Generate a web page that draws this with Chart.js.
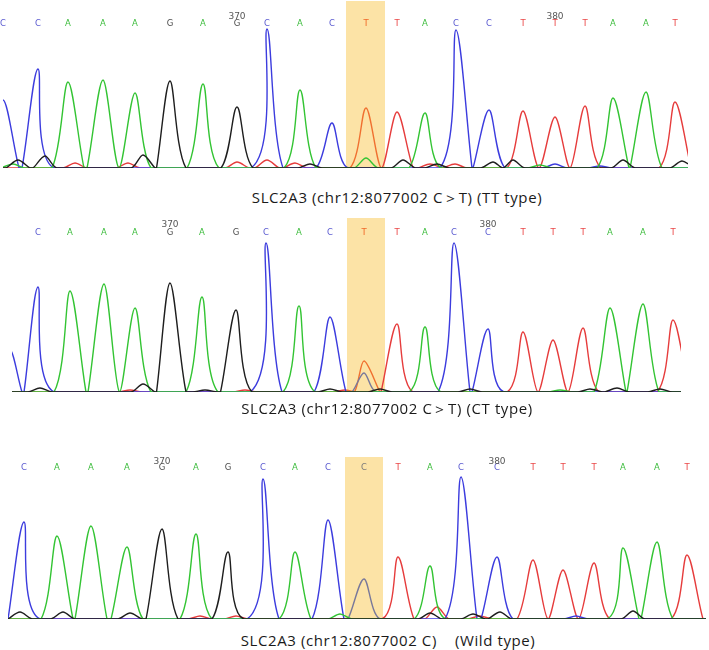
<!DOCTYPE html>
<html>
<head>
<meta charset="utf-8">
<script src="https://cdn.jsdelivr.net/npm/chart.js@4.4.1/dist/chart.umd.min.js"></script>
<style>
html,body{margin:0;padding:0;background:#fff;}
#wrap{position:relative;width:709px;height:650px;overflow:hidden;background:#fff;}
#wrap canvas{position:absolute;left:0;}
.cap{position:absolute;font-family:"Open Sans",sans-serif;font-size:15px;letter-spacing:0.6px;line-height:18px;color:#1a1a1a;white-space:pre;transform:translateX(-50%);}
</style>
</head>
<body>
<div id="wrap">
  <canvas id="c1" width="709" height="175" style="top:0px"></canvas>
  <canvas id="c2" width="709" height="190" style="top:210px"></canvas>
  <canvas id="c3" width="709" height="182" style="top:445px"></canvas>
  <div class="cap" id="cap1" style="left:397px;top:188px"></div>
  <div class="cap" id="cap2" style="left:387px;top:399px"></div>
  <div class="cap" id="cap3" style="left:388px;top:631px"></div>
</div>
<script>
// ---------- DATA (scan position / signal intensity) ----------
// Panel 1 : TT type
const p1Bases  = ['C','C','A','A','A','G','A','G','C','A','C','T','T','A','C','C','T','T','T','A','A','T'];
const p1Scan   = [3,38,68,103,135,170,203,237,267,300,332,366,397,425,456,489,523,555,585,613,646,675];
const p1Signal = [680,990,860,880,750,870,840,610,1390,780,450,600,560,550,1380,580,570,510,620,700,760,660];
const p1NoiseBase   = ['G','G','G','G','G','G','G','G','G','G','T','T','T','T','T','T','T','A','A','A','C','C'];
const p1NoiseScan   = [18,45,143,310,403,437,493,513,623,682,75,128,237,267,295,430,455,13,366,540,555,600];
const p1NoiseSignal = [80,120,130,40,80,40,60,80,80,70,50,50,60,80,50,40,40,40,100,30,40,20];
const p1TickLabels  = ['370','380'];
const p1TickIndex   = [7,17];
const p1Highlight   = [346,385];
const p1Caption     = 'SLC2A3 (chr12:8077002 C＞T) (TT type)';

// Panel 2 : CT type
const p2Bases  = ['C','A','A','A','G','A','G','C','A','C','T','T','A','C','C','T','T','T','A','A','T'];
const p2Scan   = [38,70,104,135,170,202,236,266,299,330,364,397,425,454,488,523,553,583,610,643,673];
const p2Signal = [1050,1010,1080,840,1090,950,820,1490,860,750,310,680,650,1490,630,600,520,640,840,880,720];
const p2NoiseBase   = ['C','C','G','G','G','G','G','G','G','G','G','T','T','T','A'];
const p2NoiseScan   = [10,364,40,143,205,330,380,470,590,617,660,130,245,345,560];
const p2NoiseSignal = [420,190,40,80,20,30,30,30,30,40,30,20,20,20,20];
const p2TickLabels  = ['370','380'];
const p2TickIndex   = [4,14];
const p2Highlight   = [347,385];
const p2Caption     = 'SLC2A3 (chr12:8077002 C＞T) (CT type)';

// Panel 3 : Wild type
const p3Bases  = ['C','A','A','A','G','A','G','C','A','C','C','T','A','C','C','T','T','T','A','A','T'];
const p3Scan   = [24,57,91,127,162,196,228,263,295,328,364,398,430,461,497,533,563,594,623,657,687];
const p3Signal = [970,830,930,720,900,850,670,1400,670,990,400,620,530,1420,620,590,490,560,710,770,640];
const p3NoiseBase   = ['G','G','G','G','G','G','G','T','T','T','T','A','A','C'];
const p3NoiseScan   = [20,63,130,430,473,500,633,200,236,437,480,340,718,576];
const p3NoiseSignal = [70,70,60,60,50,70,80,30,30,120,30,50,600,30];
const p3TickLabels  = ['370','380'];
const p3TickIndex   = [4,14];
const p3Highlight   = [345,383];
const p3Caption     = 'SLC2A3 (chr12:8077002 C)    (Wild type)';

// ---------- STYLE ----------
const CHANNELS = ['G','A','C','T'];
const TRACE_COLOR  = {A:'#33c433', C:'#3c3cde', G:'#1e1e1e', T:'#e63c3c'};
const LETTER_COLOR = {A:'#3cbc3c', C:'#5a5ad0', G:'#4a4a4a', T:'#ea4848'};
const HL_COLOR     = {T:'#f07030', C:'#78789a'};
const HL_FILL      = '#fce3a6';
const HW_MAIN = 16, HW_NOISE = 12;

function buildTrace(peaks, xMin, xMax){
  peaks.sort((a,b)=>a.pos-b.pos);
  const pts = [];
  for (let i=0;i<peaks.length;i++){
    const p = peaks[i];
    let l = p.pos - p.hw, r = p.pos + p.hw;
    if (i>0) l = Math.max(l,(peaks[i-1].pos+p.pos)/2);
    if (i<peaks.length-1) r = Math.min(r,(p.pos+peaks[i+1].pos)/2);
    if (!pts.length || pts[pts.length-1].x < l-0.01) pts.push({x:l,y:0});
    pts.push({x:p.pos,y:p.h});
    pts.push({x:r,y:0});
  }
  if (!pts.length || pts[0].x > xMin) pts.unshift({x:xMin,y:0});
  if (pts[pts.length-1].x < xMax) pts.push({x:xMax,y:0});
  return pts;
}

function makePanel(cfg){
  const D = cfg.data;
  const datasets = CHANNELS.map(ch=>{
    const peaks = [];
    D.bases.forEach((b,i)=>{ if(b===ch) peaks.push({pos:D.scan[i],h:D.signal[i],hw:HW_MAIN}); });
    D.noiseBase.forEach((b,i)=>{ if(b===ch) peaks.push({pos:D.noiseScan[i],h:D.noiseSignal[i],hw:HW_NOISE}); });
    return {
      label: ch,
      data: buildTrace(peaks, cfg.xMin, cfg.xMax),
      borderColor: TRACE_COLOR[ch],
      borderWidth: 1.4,
      pointRadius: 0,
      tension: 0.3,
      fill: false,
      segment: {
        borderColor: c => {
          const a=c.p0.parsed.x, b=c.p1.parsed.x;
          if (HL_COLOR[ch] && a>=D.hl[0]-3 && b<=D.hl[1]+3) return HL_COLOR[ch];
          return undefined;
        }
      }
    };
  });
  const seqPlugin = {
    id:'seq'+cfg.id,
    beforeDatasetsDraw(chart){
      const {ctx, scales:{x,y}} = chart;
      const x0=x.getPixelForValue(D.hl[0]), x1=x.getPixelForValue(D.hl[1]);
      const yT=y.getPixelForValue(y.max), yB=y.getPixelForValue(0);
      ctx.save(); ctx.fillStyle=HL_FILL; ctx.fillRect(x0,yT,x1-x0,yB-yT); ctx.restore();
    },
    afterDatasetsDraw(chart){
      const {ctx, chartArea, scales:{x}} = chart;
      ctx.save();
      ctx.textAlign='center'; ctx.textBaseline='middle';
      ctx.font='8.5px "DejaVu Sans"';
      D.bases.forEach((b,i)=>{
        const px=x.getPixelForValue(D.scan[i]);
        const inHl = D.scan[i]>=D.hl[0] && D.scan[i]<=D.hl[1];
        ctx.fillStyle = (inHl && HL_COLOR[b]) ? (b==='C' ? '#7a7a7a' : '#f06a2a') : LETTER_COLOR[b];
        ctx.fillText(b, px, chartArea.top+cfg.letterY);
      });
      ctx.font='9px "DejaVu Sans"';
      ctx.fillStyle='#555';
      D.tickLabels.forEach((t,k)=>{
        ctx.fillText(t, x.getPixelForValue(D.scan[D.tickIndex[k]]), chartArea.top+cfg.numY);
      });
      ctx.restore();
    }
  };
  new Chart(document.getElementById(cfg.id), {
    type:'line',
    data:{datasets},
    options:{
      responsive:false, animation:false, events:[],
      layout:{padding:{left:cfg.xMin,right:709-cfg.xMax,top:cfg.padTop,bottom:cfg.padBottom}},
      scales:{
        x:{type:'linear',min:cfg.xMin,max:cfg.xMax,display:false},
        y:{type:'linear',min:0,max:cfg.yMax,display:false}
      },
      plugins:{legend:{display:false},tooltip:{enabled:false},title:{display:false}}
    },
    plugins:[seqPlugin]
  });
  document.getElementById(cfg.capId).textContent = D.caption;
}

makePanel({id:'c1',capId:'cap1',xMin:3,xMax:688,padTop:1,padBottom:7,yMax:1670,letterY:23,numY:16,
  data:{bases:p1Bases,scan:p1Scan,signal:p1Signal,noiseBase:p1NoiseBase,noiseScan:p1NoiseScan,noiseSignal:p1NoiseSignal,
        tickLabels:p1TickLabels,tickIndex:p1TickIndex,hl:p1Highlight,caption:p1Caption}});
makePanel({id:'c2',capId:'cap2',xMin:12,xMax:681,padTop:8,padBottom:8,yMax:1740,letterY:15,numY:7,
  data:{bases:p2Bases,scan:p2Scan,signal:p2Signal,noiseBase:p2NoiseBase,noiseScan:p2NoiseScan,noiseSignal:p2NoiseSignal,
        tickLabels:p2TickLabels,tickIndex:p2TickIndex,hl:p2Highlight,caption:p2Caption}});
makePanel({id:'c3',capId:'cap3',xMin:8,xMax:706,padTop:12,padBottom:8,yMax:1620,letterY:11,numY:5,
  data:{bases:p3Bases,scan:p3Scan,signal:p3Signal,noiseBase:p3NoiseBase,noiseScan:p3NoiseScan,noiseSignal:p3NoiseSignal,
        tickLabels:p3TickLabels,tickIndex:p3TickIndex,hl:p3Highlight,caption:p3Caption}});
</script>
</body>
</html>
